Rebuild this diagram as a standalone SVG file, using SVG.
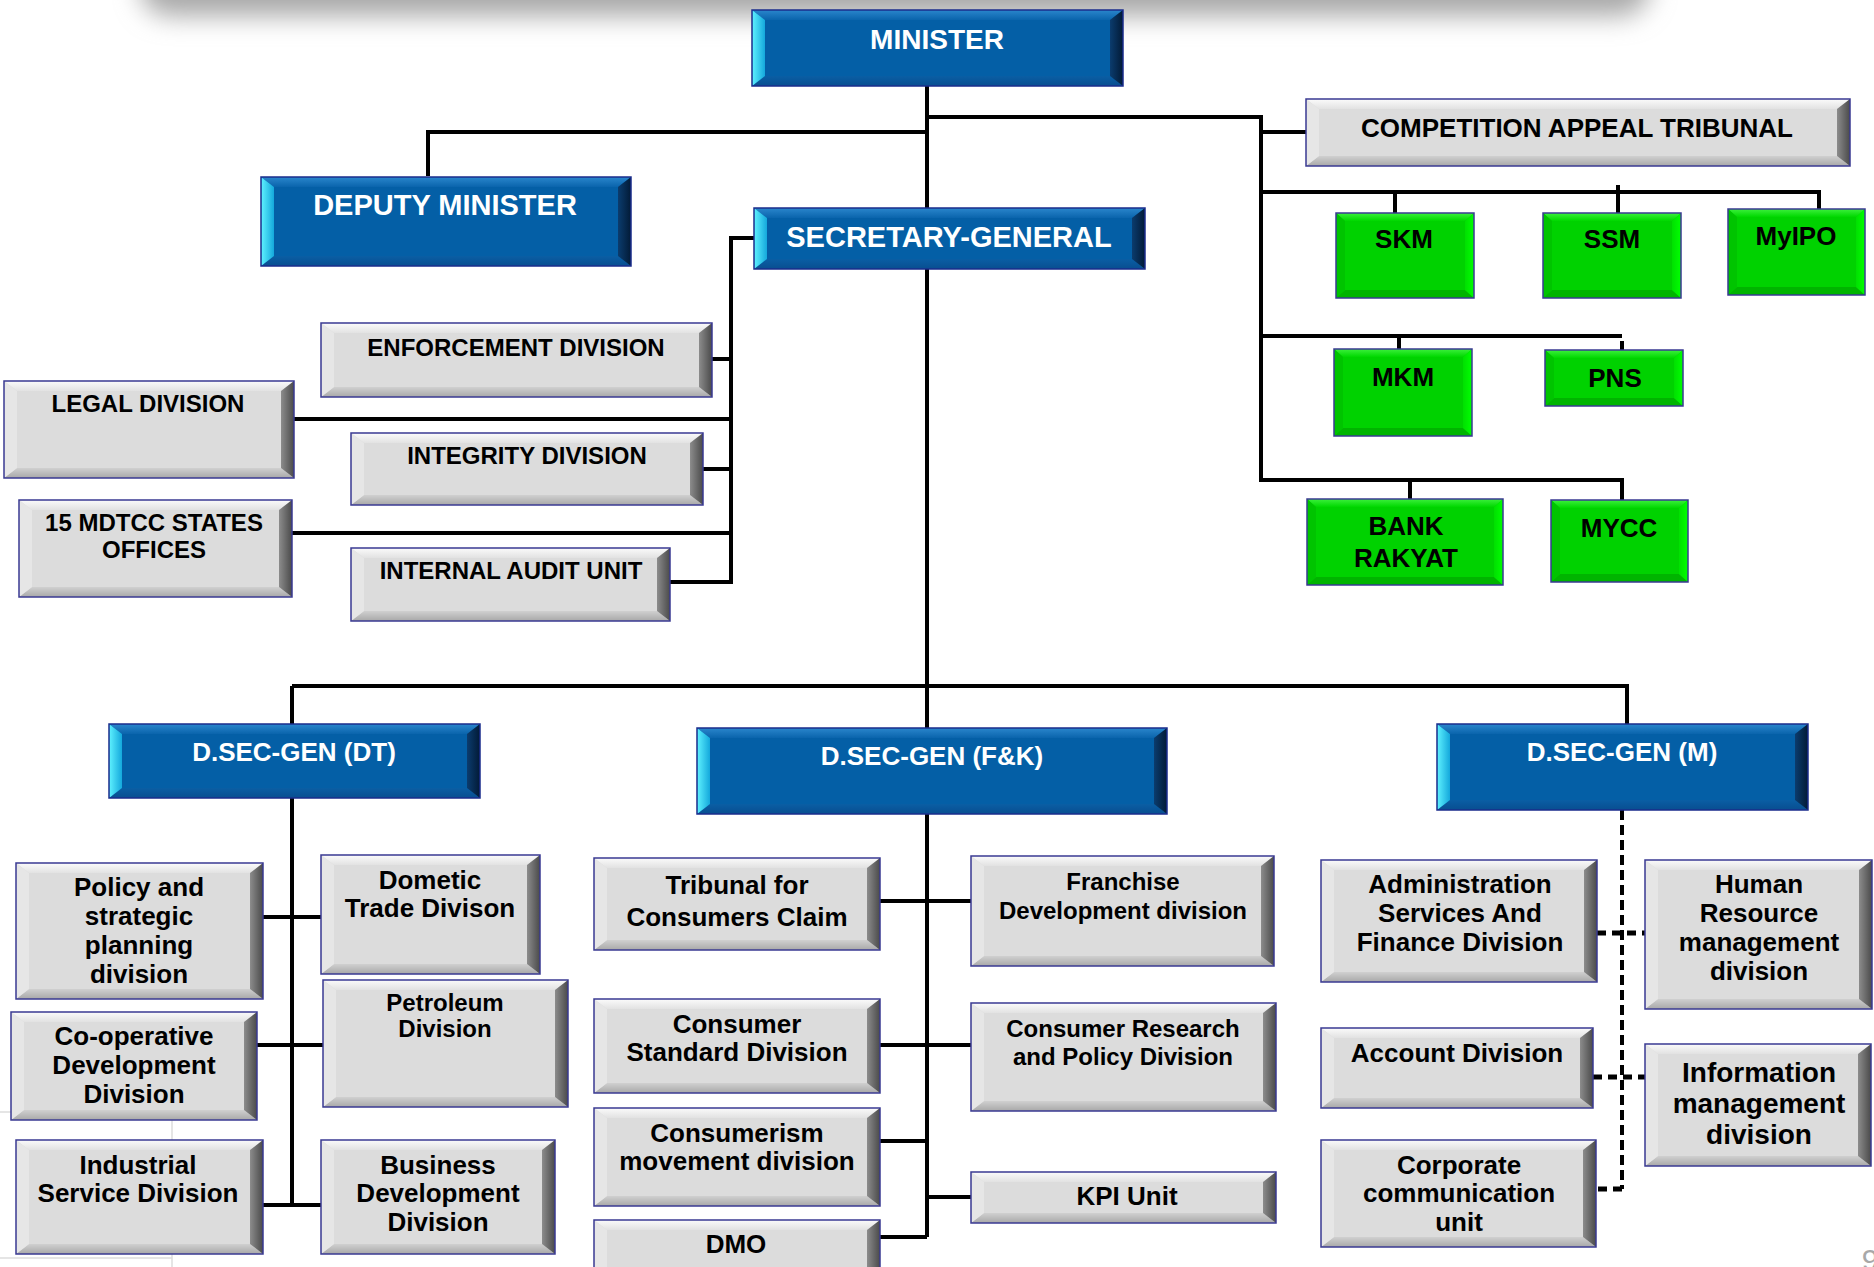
<svg xmlns="http://www.w3.org/2000/svg" width="1874" height="1267" viewBox="0 0 1874 1267">
<defs>
<filter id="blur" x="-10%" y="-100%" width="120%" height="300%"><feGaussianBlur stdDeviation="13"/></filter>
<linearGradient id="gT" x1="0" y1="0" x2="0" y2="1"><stop offset="0" stop-color="#fbfbfb"/><stop offset="1" stop-color="#e2e2e2"/></linearGradient>
<linearGradient id="gB" x1="0" y1="0" x2="0" y2="1"><stop offset="0" stop-color="#d0d0d0"/><stop offset="1" stop-color="#a8a8a8"/></linearGradient>
<linearGradient id="gR" x1="0" y1="0" x2="1" y2="0"><stop offset="0" stop-color="#8c8c8c"/><stop offset="1" stop-color="#4a4a4a"/></linearGradient>
<linearGradient id="bT" x1="0" y1="0" x2="0" y2="1"><stop offset="0" stop-color="#2a86cc"/><stop offset="1" stop-color="#0a64ac"/></linearGradient>
<linearGradient id="bB" x1="0" y1="0" x2="0" y2="1"><stop offset="0" stop-color="#0a5ea4"/><stop offset="1" stop-color="#084e90"/></linearGradient>
<linearGradient id="bL" x1="0" y1="0" x2="1" y2="0"><stop offset="0" stop-color="#5ff2ff"/><stop offset="1" stop-color="#14a8dc"/></linearGradient>
<linearGradient id="bR" x1="0" y1="0" x2="1" y2="0"><stop offset="0" stop-color="#0b3c6e"/><stop offset="1" stop-color="#021a36"/></linearGradient>
<linearGradient id="grT" x1="0" y1="0" x2="0" y2="1"><stop offset="0" stop-color="#3cf03c"/><stop offset="1" stop-color="#00d800"/></linearGradient>
<linearGradient id="grR" x1="0" y1="0" x2="1" y2="0"><stop offset="0" stop-color="#00e000"/><stop offset="1" stop-color="#00ff00"/></linearGradient>
</defs>
<style>
.g .f{fill:#dcdcdc}.g .t{fill:url(#gT)}.g .b{fill:url(#gB)}.g .l{fill:#e6e6e6}.g .r{fill:url(#gR)}
.bl .f{fill:#045fa6}.bl .t{fill:url(#bT)}.bl .b{fill:url(#bB)}.bl .l{fill:url(#bL)}.bl .r{fill:url(#bR)}
.gr .f{fill:#00d200}.gr .t{fill:url(#grT)}.gr .b{fill:#00b400}.gr .l{fill:#00c400}.gr .r{fill:url(#grR)}
.o{fill:none;stroke:#3a3a92;stroke-width:1.5}
.bl .o{stroke:#1a2c8c}
text{font-family:"Liberation Sans",Arial,sans-serif;font-weight:bold;text-anchor:middle}
.bl text{fill:#ffffff}
.g text,.gr text{fill:#000000}
.s24{font-size:24px}.s26{font-size:26px}.s28{font-size:28px}.s29{font-size:29px}
.ln{fill:none;stroke:#000;stroke-width:4}
.dl{fill:none;stroke:#000;stroke-width:4;stroke-dasharray:10 5}
.dh{fill:none;stroke:#000;stroke-width:5;stroke-dasharray:9 6}
</style>
<rect width="1874" height="1267" fill="#ffffff"/>
<rect x="140" y="-66" width="1510" height="82" rx="30" fill="#a8a8a8" filter="url(#blur)"/>
<path d="M0,1112 H172 V1267 M0,1258 H172" fill="none" stroke="#dddddd" stroke-width="1.5"/>

<g id="connectors">
<path class="ln" d="M927,86 V1237"/>
<path class="ln" d="M428,176 V132 H927"/>
<path class="ln" d="M927,117 H1261 V480 H1622 V500"/>
<path class="ln" d="M1261,132 H1306"/>
<path class="ln" d="M1261,192 H1819 V209"/>
<path class="ln" d="M1395,192 V213"/>
<path class="ln" d="M1618,185 V213"/>
<path class="ln" d="M1261,336 H1622"/>
<path class="ln" d="M1622,341 V350"/>
<path class="ln" d="M1399,336 V349"/>
<path class="ln" d="M1410,480 V499"/>
<path class="ln" d="M754,238 H731 V582 H670"/>
<path class="ln" d="M712,359 H731 M294,419 H731 M703,469 H731 M292,533 H731"/>
<path class="ln" d="M292,686 H1627 V724 M292,686 V1205"/>
<path class="ln" d="M263,917 H321 M257,1045 H323 M263,1205 H321"/>
<path class="ln" d="M880,901 H971 M880,1045 H971 M880,1141 H927 M927,1197 H971 M880,1237 H927"/>
<path class="dl" d="M1622,810 V1189"/>
<path class="dh" d="M1622,1189 H1596 M1597,933 H1645 M1593,1077 H1645"/>
</g>

<g id="minister" class="bl">
<rect class="f" x="752" y="10" width="371" height="76"/>
<path class="t" d="M752,10 h371 l-13,10 h-345 z"/>
<path class="b" d="M752,86 h371 l-13,-10 h-345 z"/>
<path class="l" d="M752,10 l13,10 v56 l-13,10 z"/>
<path class="r" d="M1123,10 l-13,10 v56 l13,10 z"/>
<rect class="o" x="752" y="10" width="371" height="76"/>
<text class="s28" x="937" y="49">MINISTER</text>
</g>

<g id="deputy-minister" class="bl">
<rect class="f" x="261" y="177" width="370" height="89"/>
<path class="t" d="M261,177 h370 l-13,10 h-344 z"/>
<path class="b" d="M261,266 h370 l-13,-10 h-344 z"/>
<path class="l" d="M261,177 l13,10 v69 l-13,10 z"/>
<path class="r" d="M631,177 l-13,10 v69 l13,10 z"/>
<rect class="o" x="261" y="177" width="370" height="89"/>
<text class="s29" x="445" y="215">DEPUTY MINISTER</text>
</g>

<g id="secretary-general" class="bl">
<rect class="f" x="754" y="208" width="391" height="61"/>
<path class="t" d="M754,208 h391 l-13,10 h-365 z"/>
<path class="b" d="M754,269 h391 l-13,-10 h-365 z"/>
<path class="l" d="M754,208 l13,10 v41 l-13,10 z"/>
<path class="r" d="M1145,208 l-13,10 v41 l13,10 z"/>
<rect class="o" x="754" y="208" width="391" height="61"/>
<text class="s29" x="949" y="247">SECRETARY-GENERAL</text>
</g>

<g id="competition-appeal-tribunal" class="g">
<rect class="f" x="1306" y="99" width="544" height="67"/>
<path class="t" d="M1306,99 h544 l-13,10 h-518 z"/>
<path class="b" d="M1306,166 h544 l-13,-10 h-518 z"/>
<path class="l" d="M1306,99 l13,10 v47 l-13,10 z"/>
<path class="r" d="M1850,99 l-13,10 v47 l13,10 z"/>
<rect class="o" x="1306" y="99" width="544" height="67"/>
<text class="s26" x="1577" y="137">COMPETITION APPEAL TRIBUNAL</text>
</g>

<g id="skm" class="gr">
<rect class="f" x="1336" y="213" width="138" height="85"/>
<path class="t" d="M1336,213 h138 l-9,8 h-120 z"/>
<path class="b" d="M1336,298 h138 l-9,-8 h-120 z"/>
<path class="l" d="M1336,213 l9,8 v69 l-9,8 z"/>
<path class="r" d="M1474,213 l-9,8 v69 l9,8 z"/>
<rect class="o" x="1336" y="213" width="138" height="85"/>
<text class="s26" x="1404" y="248">SKM</text>
</g>

<g id="ssm" class="gr">
<rect class="f" x="1543" y="213" width="138" height="85"/>
<path class="t" d="M1543,213 h138 l-9,8 h-120 z"/>
<path class="b" d="M1543,298 h138 l-9,-8 h-120 z"/>
<path class="l" d="M1543,213 l9,8 v69 l-9,8 z"/>
<path class="r" d="M1681,213 l-9,8 v69 l9,8 z"/>
<rect class="o" x="1543" y="213" width="138" height="85"/>
<text class="s26" x="1612" y="248">SSM</text>
</g>

<g id="myipo" class="gr">
<rect class="f" x="1728" y="209" width="137" height="86"/>
<path class="t" d="M1728,209 h137 l-9,8 h-119 z"/>
<path class="b" d="M1728,295 h137 l-9,-8 h-119 z"/>
<path class="l" d="M1728,209 l9,8 v70 l-9,8 z"/>
<path class="r" d="M1865,209 l-9,8 v70 l9,8 z"/>
<rect class="o" x="1728" y="209" width="137" height="86"/>
<text class="s26" x="1796" y="245">MyIPO</text>
</g>

<g id="mkm" class="gr">
<rect class="f" x="1334" y="349" width="138" height="87"/>
<path class="t" d="M1334,349 h138 l-9,8 h-120 z"/>
<path class="b" d="M1334,436 h138 l-9,-8 h-120 z"/>
<path class="l" d="M1334,349 l9,8 v71 l-9,8 z"/>
<path class="r" d="M1472,349 l-9,8 v71 l9,8 z"/>
<rect class="o" x="1334" y="349" width="138" height="87"/>
<text class="s26" x="1403" y="386">MKM</text>
</g>

<g id="pns" class="gr">
<rect class="f" x="1545" y="350" width="138" height="56"/>
<path class="t" d="M1545,350 h138 l-9,8 h-120 z"/>
<path class="b" d="M1545,406 h138 l-9,-8 h-120 z"/>
<path class="l" d="M1545,350 l9,8 v40 l-9,8 z"/>
<path class="r" d="M1683,350 l-9,8 v40 l9,8 z"/>
<rect class="o" x="1545" y="350" width="138" height="56"/>
<text class="s26" x="1615" y="387">PNS</text>
</g>

<g id="bank-rakyat" class="gr">
<rect class="f" x="1307" y="499" width="196" height="86"/>
<path class="t" d="M1307,499 h196 l-9,8 h-178 z"/>
<path class="b" d="M1307,585 h196 l-9,-8 h-178 z"/>
<path class="l" d="M1307,499 l9,8 v70 l-9,8 z"/>
<path class="r" d="M1503,499 l-9,8 v70 l9,8 z"/>
<rect class="o" x="1307" y="499" width="196" height="86"/>
<text class="s26" x="1406" y="535">BANK<tspan x="1406" dy="32">RAKYAT</tspan></text>
</g>

<g id="mycc" class="gr">
<rect class="f" x="1551" y="500" width="137" height="82"/>
<path class="t" d="M1551,500 h137 l-9,8 h-119 z"/>
<path class="b" d="M1551,582 h137 l-9,-8 h-119 z"/>
<path class="l" d="M1551,500 l9,8 v66 l-9,8 z"/>
<path class="r" d="M1688,500 l-9,8 v66 l9,8 z"/>
<rect class="o" x="1551" y="500" width="137" height="82"/>
<text class="s26" x="1619" y="537">MYCC</text>
</g>

<g id="enforcement-division" class="g">
<rect class="f" x="321" y="323" width="391" height="74"/>
<path class="t" d="M321,323 h391 l-13,10 h-365 z"/>
<path class="b" d="M321,397 h391 l-13,-10 h-365 z"/>
<path class="l" d="M321,323 l13,10 v54 l-13,10 z"/>
<path class="r" d="M712,323 l-13,10 v54 l13,10 z"/>
<rect class="o" x="321" y="323" width="391" height="74"/>
<text class="s24" x="516" y="356">ENFORCEMENT DIVISION</text>
</g>

<g id="legal-division" class="g">
<rect class="f" x="4" y="381" width="290" height="97"/>
<path class="t" d="M4,381 h290 l-13,10 h-264 z"/>
<path class="b" d="M4,478 h290 l-13,-10 h-264 z"/>
<path class="l" d="M4,381 l13,10 v77 l-13,10 z"/>
<path class="r" d="M294,381 l-13,10 v77 l13,10 z"/>
<rect class="o" x="4" y="381" width="290" height="97"/>
<text class="s24" x="148" y="412">LEGAL DIVISION</text>
</g>

<g id="integrity-division" class="g">
<rect class="f" x="351" y="433" width="352" height="72"/>
<path class="t" d="M351,433 h352 l-13,10 h-326 z"/>
<path class="b" d="M351,505 h352 l-13,-10 h-326 z"/>
<path class="l" d="M351,433 l13,10 v52 l-13,10 z"/>
<path class="r" d="M703,433 l-13,10 v52 l13,10 z"/>
<rect class="o" x="351" y="433" width="352" height="72"/>
<text class="s24" x="527" y="464">INTEGRITY DIVISION</text>
</g>

<g id="mdtcc-states-offices" class="g">
<rect class="f" x="19" y="500" width="273" height="97"/>
<path class="t" d="M19,500 h273 l-13,10 h-247 z"/>
<path class="b" d="M19,597 h273 l-13,-10 h-247 z"/>
<path class="l" d="M19,500 l13,10 v77 l-13,10 z"/>
<path class="r" d="M292,500 l-13,10 v77 l13,10 z"/>
<rect class="o" x="19" y="500" width="273" height="97"/>
<text class="s24" x="154" y="531">15 MDTCC STATES<tspan x="154" dy="27">OFFICES</tspan></text>
</g>

<g id="internal-audit-unit" class="g">
<rect class="f" x="351" y="548" width="319" height="73"/>
<path class="t" d="M351,548 h319 l-13,10 h-293 z"/>
<path class="b" d="M351,621 h319 l-13,-10 h-293 z"/>
<path class="l" d="M351,548 l13,10 v53 l-13,10 z"/>
<path class="r" d="M670,548 l-13,10 v53 l13,10 z"/>
<rect class="o" x="351" y="548" width="319" height="73"/>
<text class="s24" x="511" y="579">INTERNAL AUDIT UNIT</text>
</g>

<g id="dsecgen-dt" class="bl">
<rect class="f" x="109" y="724" width="371" height="74"/>
<path class="t" d="M109,724 h371 l-13,10 h-345 z"/>
<path class="b" d="M109,798 h371 l-13,-10 h-345 z"/>
<path class="l" d="M109,724 l13,10 v54 l-13,10 z"/>
<path class="r" d="M480,724 l-13,10 v54 l13,10 z"/>
<rect class="o" x="109" y="724" width="371" height="74"/>
<text class="s26" x="294" y="761">D.SEC-GEN (DT)</text>
</g>

<g id="dsecgen-fk" class="bl">
<rect class="f" x="697" y="728" width="470" height="86"/>
<path class="t" d="M697,728 h470 l-13,10 h-444 z"/>
<path class="b" d="M697,814 h470 l-13,-10 h-444 z"/>
<path class="l" d="M697,728 l13,10 v66 l-13,10 z"/>
<path class="r" d="M1167,728 l-13,10 v66 l13,10 z"/>
<rect class="o" x="697" y="728" width="470" height="86"/>
<text class="s26" x="932" y="765">D.SEC-GEN (F&amp;K)</text>
</g>

<g id="dsecgen-m" class="bl">
<rect class="f" x="1437" y="724" width="371" height="86"/>
<path class="t" d="M1437,724 h371 l-13,10 h-345 z"/>
<path class="b" d="M1437,810 h371 l-13,-10 h-345 z"/>
<path class="l" d="M1437,724 l13,10 v66 l-13,10 z"/>
<path class="r" d="M1808,724 l-13,10 v66 l13,10 z"/>
<rect class="o" x="1437" y="724" width="371" height="86"/>
<text class="s26" x="1622" y="761">D.SEC-GEN (M)</text>
</g>

<g id="policy-division" class="g">
<rect class="f" x="16" y="863" width="247" height="136"/>
<path class="t" d="M16,863 h247 l-13,10 h-221 z"/>
<path class="b" d="M16,999 h247 l-13,-10 h-221 z"/>
<path class="l" d="M16,863 l13,10 v116 l-13,10 z"/>
<path class="r" d="M263,863 l-13,10 v116 l13,10 z"/>
<rect class="o" x="16" y="863" width="247" height="136"/>
<text class="s26" x="139" y="896">Policy and<tspan x="139" dy="29">strategic</tspan><tspan x="139" dy="29">planning</tspan><tspan x="139" dy="29">division</tspan></text>
</g>

<g id="domestic-trade-division" class="g">
<rect class="f" x="321" y="855" width="219" height="119"/>
<path class="t" d="M321,855 h219 l-13,10 h-193 z"/>
<path class="b" d="M321,974 h219 l-13,-10 h-193 z"/>
<path class="l" d="M321,855 l13,10 v99 l-13,10 z"/>
<path class="r" d="M540,855 l-13,10 v99 l13,10 z"/>
<rect class="o" x="321" y="855" width="219" height="119"/>
<text class="s26" x="430" y="889">Dometic<tspan x="430" dy="28">Trade Divison</tspan></text>
</g>

<g id="cooperative-division" class="g">
<rect class="f" x="11" y="1012" width="246" height="108"/>
<path class="t" d="M11,1012 h246 l-13,10 h-220 z"/>
<path class="b" d="M11,1120 h246 l-13,-10 h-220 z"/>
<path class="l" d="M11,1012 l13,10 v88 l-13,10 z"/>
<path class="r" d="M257,1012 l-13,10 v88 l13,10 z"/>
<rect class="o" x="11" y="1012" width="246" height="108"/>
<text class="s26" x="134" y="1045">Co-operative<tspan x="134" dy="29">Development</tspan><tspan x="134" dy="29">Division</tspan></text>
</g>

<g id="petroleum-division" class="g">
<rect class="f" x="323" y="980" width="245" height="127"/>
<path class="t" d="M323,980 h245 l-13,10 h-219 z"/>
<path class="b" d="M323,1107 h245 l-13,-10 h-219 z"/>
<path class="l" d="M323,980 l13,10 v107 l-13,10 z"/>
<path class="r" d="M568,980 l-13,10 v107 l13,10 z"/>
<rect class="o" x="323" y="980" width="245" height="127"/>
<text class="s24" x="445" y="1011">Petroleum<tspan x="445" dy="26">Division</tspan></text>
</g>

<g id="industrial-service-division" class="g">
<rect class="f" x="16" y="1140" width="247" height="114"/>
<path class="t" d="M16,1140 h247 l-13,10 h-221 z"/>
<path class="b" d="M16,1254 h247 l-13,-10 h-221 z"/>
<path class="l" d="M16,1140 l13,10 v94 l-13,10 z"/>
<path class="r" d="M263,1140 l-13,10 v94 l13,10 z"/>
<rect class="o" x="16" y="1140" width="247" height="114"/>
<text class="s26" x="138" y="1174">Industrial<tspan x="138" dy="28">Service Division</tspan></text>
</g>

<g id="business-development-division" class="g">
<rect class="f" x="321" y="1140" width="234" height="114"/>
<path class="t" d="M321,1140 h234 l-13,10 h-208 z"/>
<path class="b" d="M321,1254 h234 l-13,-10 h-208 z"/>
<path class="l" d="M321,1140 l13,10 v94 l-13,10 z"/>
<path class="r" d="M555,1140 l-13,10 v94 l13,10 z"/>
<rect class="o" x="321" y="1140" width="234" height="114"/>
<text class="s26" x="438" y="1174">Business<tspan x="438" dy="28">Development</tspan><tspan x="438" dy="29">Division</tspan></text>
</g>

<g id="tribunal-consumers-claim" class="g">
<rect class="f" x="594" y="858" width="286" height="92"/>
<path class="t" d="M594,858 h286 l-13,10 h-260 z"/>
<path class="b" d="M594,950 h286 l-13,-10 h-260 z"/>
<path class="l" d="M594,858 l13,10 v72 l-13,10 z"/>
<path class="r" d="M880,858 l-13,10 v72 l13,10 z"/>
<rect class="o" x="594" y="858" width="286" height="92"/>
<text class="s26" x="737" y="894">Tribunal for<tspan x="737" dy="32">Consumers Claim</tspan></text>
</g>

<g id="consumer-standard-division" class="g">
<rect class="f" x="594" y="999" width="286" height="94"/>
<path class="t" d="M594,999 h286 l-13,10 h-260 z"/>
<path class="b" d="M594,1093 h286 l-13,-10 h-260 z"/>
<path class="l" d="M594,999 l13,10 v74 l-13,10 z"/>
<path class="r" d="M880,999 l-13,10 v74 l13,10 z"/>
<rect class="o" x="594" y="999" width="286" height="94"/>
<text class="s26" x="737" y="1033">Consumer<tspan x="737" dy="28">Standard Division</tspan></text>
</g>

<g id="consumerism-movement-division" class="g">
<rect class="f" x="594" y="1108" width="286" height="98"/>
<path class="t" d="M594,1108 h286 l-13,10 h-260 z"/>
<path class="b" d="M594,1206 h286 l-13,-10 h-260 z"/>
<path class="l" d="M594,1108 l13,10 v78 l-13,10 z"/>
<path class="r" d="M880,1108 l-13,10 v78 l13,10 z"/>
<rect class="o" x="594" y="1108" width="286" height="98"/>
<text class="s26" x="737" y="1142">Consumerism<tspan x="737" dy="28">movement division</tspan></text>
</g>

<g id="dmo" class="g">
<rect class="f" x="594" y="1220" width="286" height="60"/>
<path class="t" d="M594,1220 h286 l-13,10 h-260 z"/>
<path class="b" d="M594,1280 h286 l-13,-10 h-260 z"/>
<path class="l" d="M594,1220 l13,10 v40 l-13,10 z"/>
<path class="r" d="M880,1220 l-13,10 v40 l13,10 z"/>
<rect class="o" x="594" y="1220" width="286" height="60"/>
<text class="s26" x="736" y="1253">DMO</text>
</g>

<g id="franchise-development-division" class="g">
<rect class="f" x="971" y="856" width="303" height="110"/>
<path class="t" d="M971,856 h303 l-13,10 h-277 z"/>
<path class="b" d="M971,966 h303 l-13,-10 h-277 z"/>
<path class="l" d="M971,856 l13,10 v90 l-13,10 z"/>
<path class="r" d="M1274,856 l-13,10 v90 l13,10 z"/>
<rect class="o" x="971" y="856" width="303" height="110"/>
<text class="s24" x="1123" y="890">Franchise<tspan x="1123" dy="29">Development division</tspan></text>
</g>

<g id="consumer-research-policy-division" class="g">
<rect class="f" x="971" y="1003" width="305" height="108"/>
<path class="t" d="M971,1003 h305 l-13,10 h-279 z"/>
<path class="b" d="M971,1111 h305 l-13,-10 h-279 z"/>
<path class="l" d="M971,1003 l13,10 v88 l-13,10 z"/>
<path class="r" d="M1276,1003 l-13,10 v88 l13,10 z"/>
<rect class="o" x="971" y="1003" width="305" height="108"/>
<text class="s24" x="1123" y="1037">Consumer Research<tspan x="1123" dy="28">and Policy Division</tspan></text>
</g>

<g id="kpi-unit" class="g">
<rect class="f" x="971" y="1172" width="305" height="51"/>
<path class="t" d="M971,1172 h305 l-13,10 h-279 z"/>
<path class="b" d="M971,1223 h305 l-13,-10 h-279 z"/>
<path class="l" d="M971,1172 l13,10 v31 l-13,10 z"/>
<path class="r" d="M1276,1172 l-13,10 v31 l13,10 z"/>
<rect class="o" x="971" y="1172" width="305" height="51"/>
<text class="s26" x="1127" y="1205">KPI Unit</text>
</g>

<g id="admin-finance-division" class="g">
<rect class="f" x="1321" y="860" width="276" height="122"/>
<path class="t" d="M1321,860 h276 l-13,10 h-250 z"/>
<path class="b" d="M1321,982 h276 l-13,-10 h-250 z"/>
<path class="l" d="M1321,860 l13,10 v102 l-13,10 z"/>
<path class="r" d="M1597,860 l-13,10 v102 l13,10 z"/>
<rect class="o" x="1321" y="860" width="276" height="122"/>
<text class="s26" x="1460" y="893">Administration<tspan x="1460" dy="29">Services And</tspan><tspan x="1460" dy="29">Finance Division</tspan></text>
</g>

<g id="human-resource-division" class="g">
<rect class="f" x="1645" y="860" width="227" height="149"/>
<path class="t" d="M1645,860 h227 l-13,10 h-201 z"/>
<path class="b" d="M1645,1009 h227 l-13,-10 h-201 z"/>
<path class="l" d="M1645,860 l13,10 v129 l-13,10 z"/>
<path class="r" d="M1872,860 l-13,10 v129 l13,10 z"/>
<rect class="o" x="1645" y="860" width="227" height="149"/>
<text class="s26" x="1759" y="893">Human<tspan x="1759" dy="29">Resource</tspan><tspan x="1759" dy="29">management</tspan><tspan x="1759" dy="29">division</tspan></text>
</g>

<g id="account-division" class="g">
<rect class="f" x="1321" y="1028" width="272" height="80"/>
<path class="t" d="M1321,1028 h272 l-13,10 h-246 z"/>
<path class="b" d="M1321,1108 h272 l-13,-10 h-246 z"/>
<path class="l" d="M1321,1028 l13,10 v60 l-13,10 z"/>
<path class="r" d="M1593,1028 l-13,10 v60 l13,10 z"/>
<rect class="o" x="1321" y="1028" width="272" height="80"/>
<text class="s26" x="1457" y="1062">Account Division</text>
</g>

<g id="information-management-division" class="g">
<rect class="f" x="1645" y="1044" width="226" height="122"/>
<path class="t" d="M1645,1044 h226 l-13,10 h-200 z"/>
<path class="b" d="M1645,1166 h226 l-13,-10 h-200 z"/>
<path class="l" d="M1645,1044 l13,10 v102 l-13,10 z"/>
<path class="r" d="M1871,1044 l-13,10 v102 l13,10 z"/>
<rect class="o" x="1645" y="1044" width="226" height="122"/>
<text class="s28" x="1759" y="1082">Information<tspan x="1759" dy="31">management</tspan><tspan x="1759" dy="31">division</tspan></text>
</g>

<g id="corporate-communication-unit" class="g">
<rect class="f" x="1321" y="1140" width="275" height="107"/>
<path class="t" d="M1321,1140 h275 l-13,10 h-249 z"/>
<path class="b" d="M1321,1247 h275 l-13,-10 h-249 z"/>
<path class="l" d="M1321,1140 l13,10 v87 l-13,10 z"/>
<path class="r" d="M1596,1140 l-13,10 v87 l13,10 z"/>
<rect class="o" x="1321" y="1140" width="275" height="107"/>
<text class="s26" x="1459" y="1174">Corporate<tspan x="1459" dy="28">communication</tspan><tspan x="1459" dy="29">unit</tspan></text>
</g>

<text x="1870" y="1270" style="font-size:30px;font-weight:normal;fill:#a8a8a8">9</text>
</svg>
